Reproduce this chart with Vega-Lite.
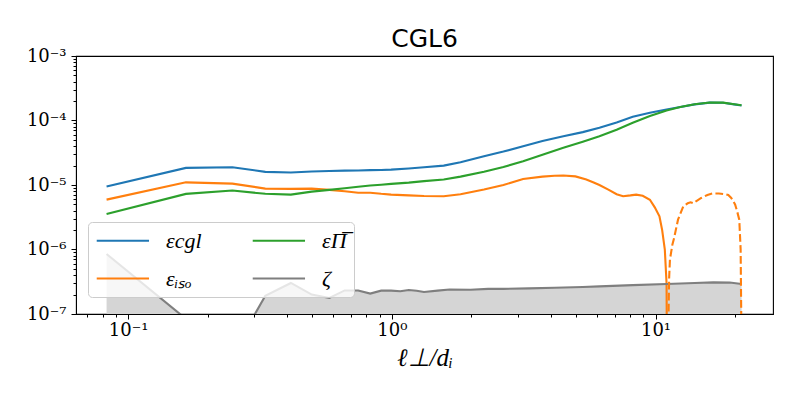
{
  "$schema": "https://vega.github.io/schema/vega-lite/v6.json",
  "width": 697,
  "height": 258,
  "autosize": {"type": "none"},
  "padding": {"left": 76, "top": 56, "right": 27, "bottom": 86},
  "background": "white",
  "title": {"text": "CGL6", "font": "DejaVu Sans", "fontSize": 25, "fontWeight": "normal", "color": "black", "anchor": "middle", "offset": -5},
  "config": {
    "view": {"stroke": "black", "strokeWidth": 1.1},
    "axis": {"grid": false, "domainColor": "black", "tickColor": "black", "labelColor": "black", "titleColor": "black"}
  },
  "datasets": {
    "d": [
      {"x":0.0828,"y":9.5e-6,"s":"εcgl"},{"x":0.1656,"y":1.84e-5,"s":"εcgl"},{"x":0.2484,"y":1.88e-5,"s":"εcgl"},{"x":0.3312,"y":1.6e-5,"s":"εcgl"},{"x":0.414,"y":1.56e-5,"s":"εcgl"},{"x":0.4968,"y":1.62e-5,"s":"εcgl"},{"x":0.5796,"y":1.65e-5,"s":"εcgl"},{"x":0.6624,"y":1.67e-5,"s":"εcgl"},{"x":0.7452,"y":1.68e-5,"s":"εcgl"},{"x":0.828,"y":1.7e-5,"s":"εcgl"},{"x":0.9108,"y":1.71e-5,"s":"εcgl"},{"x":0.9936,"y":1.73e-5,"s":"εcgl"},{"x":1.1592,"y":1.8e-5,"s":"εcgl"},{"x":1.3248,"y":1.88e-5,"s":"εcgl"},{"x":1.5732,"y":2.0e-5,"s":"εcgl"},{"x":1.8216,"y":2.25e-5,"s":"εcgl"},{"x":2.2356,"y":2.79e-5,"s":"εcgl"},{"x":2.6496,"y":3.3e-5,"s":"εcgl"},{"x":3.1464,"y":3.98e-5,"s":"εcgl"},{"x":3.726,"y":4.8e-5,"s":"εcgl"},{"x":4.4712,"y":5.7e-5,"s":"εcgl"},{"x":5.2992,"y":6.6e-5,"s":"εcgl"},{"x":6.1272,"y":7.7e-5,"s":"εcgl"},{"x":7.1208,"y":9.3e-5,"s":"εcgl"},{"x":8.1972,"y":1.14e-4,"s":"εcgl"},{"x":9.522,"y":1.32e-4,"s":"εcgl"},{"x":11.0124,"y":1.48e-4,"s":"εcgl"},{"x":12.42,"y":1.62e-4,"s":"εcgl"},{"x":14.076,"y":1.78e-4,"s":"εcgl"},{"x":16.0632,"y":1.89e-4,"s":"εcgl"},{"x":18.0504,"y":1.88e-4,"s":"εcgl"},{"x":19.872,"y":1.78e-4,"s":"εcgl"},{"x":21.1968,"y":1.71e-4,"s":"εcgl"},

      {"x":0.0828,"y":5.93e-6,"s":"εᵢₛₒ"},{"x":0.1656,"y":1.1e-5,"s":"εᵢₛₒ"},{"x":0.2484,"y":1.05e-5,"s":"εᵢₛₒ"},{"x":0.3312,"y":8.8e-6,"s":"εᵢₛₒ"},{"x":0.414,"y":8.7e-6,"s":"εᵢₛₒ"},{"x":0.4968,"y":8.8e-6,"s":"εᵢₛₒ"},{"x":0.5796,"y":8.4e-6,"s":"εᵢₛₒ"},{"x":0.6624,"y":8.0e-6,"s":"εᵢₛₒ"},{"x":0.7452,"y":7.6e-6,"s":"εᵢₛₒ"},{"x":0.828,"y":7.6e-6,"s":"εᵢₛₒ"},{"x":0.9108,"y":7.3e-6,"s":"εᵢₛₒ"},{"x":0.9936,"y":7.1e-6,"s":"εᵢₛₒ"},{"x":1.1592,"y":6.9e-6,"s":"εᵢₛₒ"},{"x":1.3248,"y":6.75e-6,"s":"εᵢₛₒ"},{"x":1.5732,"y":6.68e-6,"s":"εᵢₛₒ"},{"x":1.8216,"y":7.2e-6,"s":"εᵢₛₒ"},{"x":2.2356,"y":8.5e-6,"s":"εᵢₛₒ"},{"x":2.6496,"y":1.0e-5,"s":"εᵢₛₒ"},{"x":3.1464,"y":1.24e-5,"s":"εᵢₛₒ"},{"x":3.726,"y":1.35e-5,"s":"εᵢₛₒ"},{"x":4.14,"y":1.39e-5,"s":"εᵢₛₒ"},{"x":4.4712,"y":1.4e-5,"s":"εᵢₛₒ"},{"x":4.968,"y":1.36e-5,"s":"εᵢₛₒ"},{"x":5.4648,"y":1.22e-5,"s":"εᵢₛₒ"},{"x":5.796,"y":1.1e-5,"s":"εᵢₛₒ"},{"x":6.1272,"y":1.0e-5,"s":"εᵢₛₒ"},{"x":6.624,"y":8.5e-6,"s":"εᵢₛₒ"},{"x":7.1208,"y":7.2e-6,"s":"εᵢₛₒ"},{"x":7.5348,"y":6.7e-6,"s":"εᵢₛₒ"},{"x":8.0316,"y":6.9e-6,"s":"εᵢₛₒ"},{"x":8.4456,"y":7.1e-6,"s":"εᵢₛₒ"},{"x":8.9424,"y":6.8e-6,"s":"εᵢₛₒ"},{"x":9.522,"y":5.9e-6,"s":"εᵢₛₒ"},{"x":9.936,"y":4.5e-6,"s":"εᵢₛₒ"},{"x":10.35,"y":3.27e-6,"s":"εᵢₛₒ"},{"x":10.5984,"y":2.0e-6,"s":"εᵢₛₒ"},{"x":10.8468,"y":1.0e-6,"s":"εᵢₛₒ"},{"x":11.0124,"y":3e-7,"s":"εᵢₛₒ"},{"x":11.0952,"y":1e-9,"s":"εᵢₛₒ"},

      {"x":0.0828,"y":3.56e-6,"s":"εΠ̅"},{"x":0.1656,"y":7.28e-6,"s":"εΠ̅"},{"x":0.2484,"y":8.2e-6,"s":"εΠ̅"},{"x":0.3312,"y":7.3e-6,"s":"εΠ̅"},{"x":0.414,"y":7.1e-6,"s":"εΠ̅"},{"x":0.4968,"y":7.9e-6,"s":"εΠ̅"},{"x":0.5796,"y":8.4e-6,"s":"εΠ̅"},{"x":0.6624,"y":8.9e-6,"s":"εΠ̅"},{"x":0.7452,"y":9.4e-6,"s":"εΠ̅"},{"x":0.828,"y":9.8e-6,"s":"εΠ̅"},{"x":0.9108,"y":1.01e-5,"s":"εΠ̅"},{"x":0.9936,"y":1.04e-5,"s":"εΠ̅"},{"x":1.1592,"y":1.09e-5,"s":"εΠ̅"},{"x":1.3248,"y":1.15e-5,"s":"εΠ̅"},{"x":1.5732,"y":1.22e-5,"s":"εΠ̅"},{"x":1.8216,"y":1.35e-5,"s":"εΠ̅"},{"x":2.2356,"y":1.6e-5,"s":"εΠ̅"},{"x":2.6496,"y":1.9e-5,"s":"εΠ̅"},{"x":3.1464,"y":2.33e-5,"s":"εΠ̅"},{"x":3.726,"y":2.95e-5,"s":"εΠ̅"},{"x":4.4712,"y":3.77e-5,"s":"εΠ̅"},{"x":5.2992,"y":4.7e-5,"s":"εΠ̅"},{"x":6.1272,"y":5.7e-5,"s":"εΠ̅"},{"x":7.1208,"y":7.2e-5,"s":"εΠ̅"},{"x":8.1972,"y":9.2e-5,"s":"εΠ̅"},{"x":9.522,"y":1.17e-4,"s":"εΠ̅"},{"x":11.0124,"y":1.43e-4,"s":"εΠ̅"},{"x":12.42,"y":1.62e-4,"s":"εΠ̅"},{"x":14.076,"y":1.79e-4,"s":"εΠ̅"},{"x":16.0632,"y":1.9e-4,"s":"εΠ̅"},{"x":18.0504,"y":1.89e-4,"s":"εΠ̅"},{"x":19.872,"y":1.79e-4,"s":"εΠ̅"},{"x":21.1968,"y":1.72e-4,"s":"εΠ̅"},

      {"x":0.0828,"y":8.5e-7,"s":"ζ"},{"x":0.1656,"y":8.4e-8,"s":"ζ"},{"x":0.2484,"y":2.4e-8,"s":"ζ"},{"x":0.3312,"y":1.92e-7,"s":"ζ"},{"x":0.414,"y":3.03e-7,"s":"ζ"},{"x":0.4968,"y":2.0e-7,"s":"ζ"},{"x":0.5796,"y":1.77e-7,"s":"ζ"},{"x":0.6624,"y":2.32e-7,"s":"ζ"},{"x":0.7452,"y":2.32e-7,"s":"ζ"},{"x":0.828,"y":2.07e-7,"s":"ζ"},{"x":0.9108,"y":2.3e-7,"s":"ζ"},{"x":0.9936,"y":2.3e-7,"s":"ζ"},{"x":1.0764,"y":2.25e-7,"s":"ζ"},{"x":1.1592,"y":2.35e-7,"s":"ζ"},{"x":1.242,"y":2.3e-7,"s":"ζ"},{"x":1.3248,"y":2.19e-7,"s":"ζ"},{"x":1.4904,"y":2.3e-7,"s":"ζ"},{"x":1.656,"y":2.4e-7,"s":"ζ"},{"x":1.9872,"y":2.38e-7,"s":"ζ"},{"x":2.3184,"y":2.45e-7,"s":"ζ"},{"x":2.6496,"y":2.45e-7,"s":"ζ"},{"x":3.312,"y":2.5e-7,"s":"ζ"},{"x":4.14,"y":2.55e-7,"s":"ζ"},{"x":5.2992,"y":2.62e-7,"s":"ζ"},{"x":6.1272,"y":2.68e-7,"s":"ζ"},{"x":8.1972,"y":2.8e-7,"s":"ζ"},{"x":11.0124,"y":2.92e-7,"s":"ζ"},{"x":14.076,"y":3.03e-7,"s":"ζ"},{"x":16.56,"y":3.09e-7,"s":"ζ"},{"x":19.1268,"y":3.07e-7,"s":"ζ"},{"x":21.1968,"y":2.92e-7,"s":"ζ"},

      {"x":11.178,"y":5e-8,"s":"neg"},{"x":11.2608,"y":3.5e-7,"s":"neg"},{"x":11.3436,"y":7e-7,"s":"neg"},{"x":11.592,"y":1.2e-6,"s":"neg"},{"x":11.7576,"y":1.5e-6,"s":"neg"},{"x":12.1716,"y":2.9e-6,"s":"neg"},{"x":12.7512,"y":4.7e-6,"s":"neg"},{"x":13.248,"y":5.2e-6,"s":"neg"},{"x":13.5792,"y":5.4e-6,"s":"neg"},{"x":13.9104,"y":5.2e-6,"s":"neg"},{"x":14.2416,"y":5.6e-6,"s":"neg"},{"x":14.904,"y":6.3e-6,"s":"neg"},{"x":15.732,"y":7.0e-6,"s":"neg"},{"x":16.4772,"y":7.4e-6,"s":"neg"},{"x":17.388,"y":7.4e-6,"s":"neg"},{"x":18.3816,"y":7.2e-6,"s":"neg"},{"x":18.8784,"y":7.0e-6,"s":"neg"},{"x":19.3752,"y":6.3e-6,"s":"neg"},{"x":20.0376,"y":5.0e-6,"s":"neg"},{"x":20.3688,"y":4.0e-6,"s":"neg"},{"x":20.7828,"y":2.9e-6,"s":"neg"},{"x":21.0312,"y":1.0e-6,"s":"neg"},{"x":21.1968,"y":3e-8,"s":"neg"}
    ]
  },
  "data": {"name": "d"},
  "layer": [
    {
      "transform": [{"filter": "datum.s === 'ζ'"}],
      "mark": {"type": "area", "color": "#d5d5d5", "clip": true},
      "encoding": {
        "x": {"field": "x", "type": "quantitative",
          "scale": {"type": "log", "domain": [0.0634, 27.9], "nice": false},
          "axis": {"orient": "bottom", "values": [0.1, 1, 10], "labelExpr": "['10⁻¹','10⁰','10¹'][round(log(datum.value)/LN10)+1]", "tickSize": 5, "labelFont": "DejaVu Serif", "labelFontSize": 18, "labelPadding": 2, "title": "ℓ⊥/dᵢ", "titleFont": "Liberation Serif", "titleFontStyle": "italic", "titleFontWeight": "normal", "titleFontSize": 25, "titlePadding": 6}},
        "y": {"field": "y", "type": "quantitative",
          "scale": {"type": "log", "domain": [1e-7, 1e-3], "nice": false},
          "axis": {"orient": "left", "values": [1e-7, 1e-6, 1e-5, 1e-4, 1e-3], "labelExpr": "['10⁻⁷','10⁻⁶','10⁻⁵','10⁻⁴','10⁻³'][round(log(datum.value)/LN10)+7]", "tickSize": 5, "labelFont": "DejaVu Serif", "labelFontSize": 18, "labelPadding": 5, "title": null}},
        "y2": {"datum": 1e-9}
      }
    },
    {
      "transform": [{"filter": "datum.s !== 'neg'"}],
      "mark": {"type": "line", "strokeWidth": 2.1, "clip": true},
      "encoding": {
        "x": {"field": "x", "type": "quantitative",
          "scale": {"type": "log", "domain": [0.0634, 27.9], "nice": false},
          "axis": {"orient": "bottom", "values": [0.07, 0.08, 0.09, 0.2, 0.3, 0.4, 0.5, 0.6, 0.7, 0.8, 0.9, 2, 3, 4, 5, 6, 7, 8, 9, 20], "labels": false, "domain": false, "tickSize": 3, "title": null}},
        "y": {"field": "y", "type": "quantitative",
          "scale": {"type": "log", "domain": [1e-7, 1e-3], "nice": false},
          "axis": {"orient": "left", "values": [2e-7,3e-7,4e-7,5e-7,6e-7,7e-7,8e-7,9e-7,2e-6,3e-6,4e-6,5e-6,6e-6,7e-6,8e-6,9e-6,2e-5,3e-5,4e-5,5e-5,6e-5,7e-5,8e-5,9e-5,2e-4,3e-4,4e-4,5e-4,6e-4,7e-4,8e-4,9e-4], "labels": false, "domain": false, "tickSize": 3, "title": null}},
        "color": {"field": "s", "type": "nominal",
          "scale": {"domain": ["εcgl", "εᵢₛₒ", "εΠ̅", "ζ"], "range": ["#1f77b4", "#ff7f0e", "#2ca02c", "#7f7f7f"]},
          "legend": {"title": null, "orient": "none", "legendX": 12, "legendY": 166, "columns": 2, "symbolType": "M-0.94,0H4.09", "symbolSize": 432.6, "symbolStrokeWidth": 2.1, "labelFont": "Liberation Serif", "labelFontStyle": "italic", "labelFontSize": 22, "labelOffset": 48, "labelColor": "black", "rowPadding": 15, "columnPadding": 46, "padding": 7, "fillColor": "rgba(255,255,255,0.8)", "strokeColor": "#cccccc", "cornerRadius": 4}}
      }
    },
    {
      "transform": [{"filter": "datum.s === 'neg'"}],
      "mark": {"type": "line", "strokeWidth": 2.1, "color": "#ff7f0e", "strokeDash": [7.7, 3.3], "clip": true},
      "encoding": {
        "x": {"field": "x", "type": "quantitative", "scale": {"type": "log", "domain": [0.0634, 27.9], "nice": false}, "axis": null},
        "y": {"field": "y", "type": "quantitative", "scale": {"type": "log", "domain": [1e-7, 1e-3], "nice": false}, "axis": null}
      }
    }
  ],
  "resolve": {"axis": {"x": "independent", "y": "independent"}}
}
